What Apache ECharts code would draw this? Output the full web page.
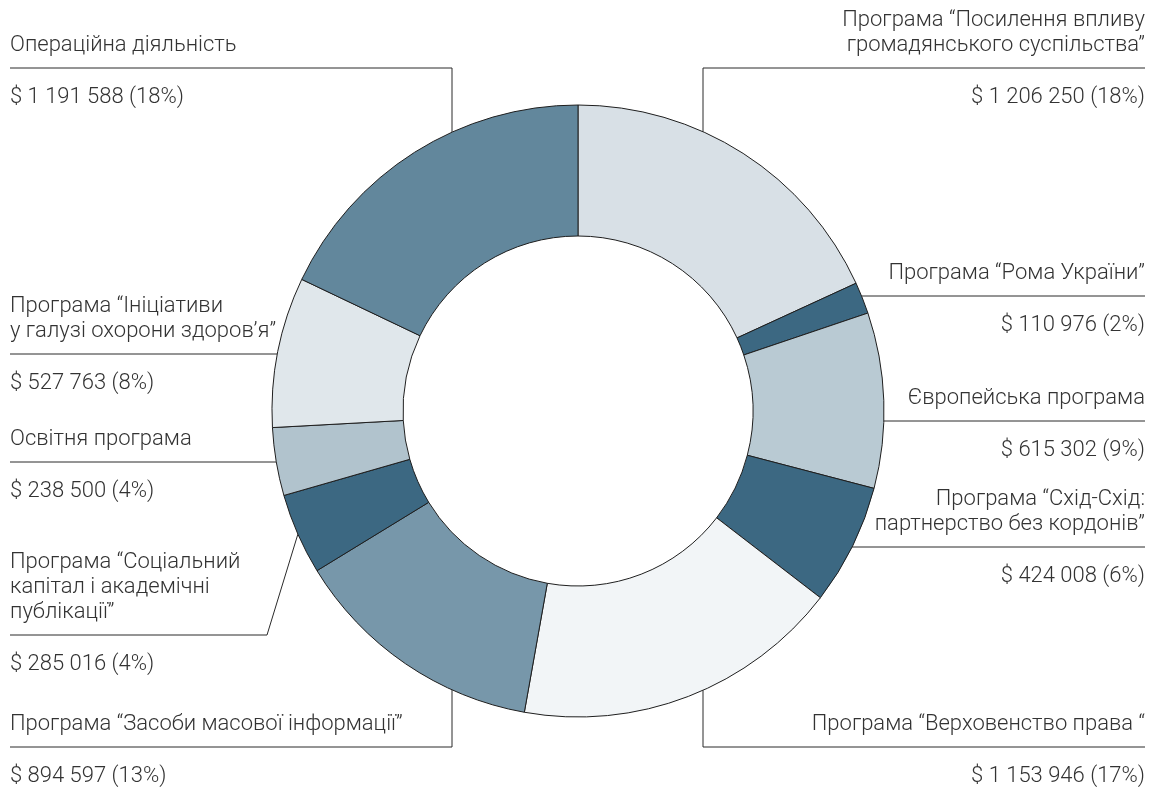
<!DOCTYPE html>
<html><head><meta charset="utf-8">
<script src="https://cdn.jsdelivr.net/npm/echarts@6/dist/echarts.min.js"></script>
<style>html,body{margin:0;padding:0;background:#fff}#c{width:1152px;height:789px}</style>
</head><body><div id="c"></div>
<script>
// ---- data ----
const categories = [
  'Програма “Посилення впливу\nгромадянського суспільства”',
  'Програма “Рома України”',
  'Європейська програма',
  'Програма “Схід-Схід:\nпартнерство без кордонів”',
  'Програма “Верховенство права “',
  'Програма “Засоби масової інформації”',
  'Програма “Соціальний\nкапітал і академічні\nпублікації”',
  'Освітня програма',
  'Програма “Ініціативи\nу галузі охорони здоров’я”',
  'Операційна діяльність'
];
const values = [1206250, 110976, 615302, 424008, 1153946, 894597, 285016, 238500, 527763, 1191588];
const colors = ['#d8e0e6', '#3c6882', '#b9cad3', '#3c6882', '#f2f5f7', '#7797aa', '#3c6882', '#b1c3cd', '#e0e7eb', '#62879c'];

// ---- label layout (positions, not data) ----
const labelSide = ['right', 'right', 'right', 'right', 'right', 'left', 'left', 'left', 'left', 'left'];
const labelLineY = [68, 296, 421, 547, 747, 747, 635, 462, 354, 68];
const leaderKind = ['v', 'h', 'h', 'h', 'v', 'v', 'd', 'h', 'h', 'v'];
const leaderBendX = [703, null, null, null, 703, 452, 267, null, null, 452];

const CX = 578, CY = 411, R_IN = 175, R_OUT = 306;
const LEFT_X = 10, RIGHT_X = 1145;
const NAME_LH = 25, GAP_LH = 27, VALUE_LH = 25;
const FS = 22;
const FONT = 'Roboto, "Liberation Sans", sans-serif';

function fmt(v) { return String(v).replace(/\B(?=(\d{3})+(?!\d))/g, ' '); }

const chart = echarts.init(document.getElementById('c'), null, { renderer: 'canvas' });
chart.setOption({
  animation: false,
  series: [{
    type: 'pie',
    center: [CX, CY],
    radius: [R_IN, R_OUT],
    startAngle: 90,
    clockwise: true,
    avoidLabelOverlap: false,
    emphasis: { disabled: true },
    itemStyle: { borderColor: '#1e1e1e', borderWidth: 1 },
    data: categories.map((n, i) => ({ name: n, value: values[i], itemStyle: { color: colors[i] } })),
    label: {
      show: true,
      color: '#333',
      fontFamily: FONT,
      fontWeight: 300,
      fontSize: FS,
      formatter: function (p) {
        const lines = p.name.split('\n').map(l => '{n|' + l + '}');
        return lines.join('\n') + '\n{g| }\n{v|$ ' + fmt(p.value) + ' (' + Math.round(p.percent) + '%)}';
      },
      rich: {
        n: { fontSize: FS, lineHeight: NAME_LH, color: '#333', fontFamily: FONT, fontWeight: 300 },
        g: { fontSize: 4, lineHeight: GAP_LH },
        v: { fontSize: FS, lineHeight: VALUE_LH, color: '#333', fontFamily: FONT, fontWeight: 300 }
      }
    },
    labelLine: { show: true, length: 5, length2: 5, lineStyle: { color: '#2a2a2a', width: 1 } },
    labelLayout: function (p) {
      const i = p.dataIndex;
      const L = labelLineY[i];
      const k = categories[i].split('\n').length;
      const left = labelSide[i] === 'left';
      const endX = left ? LEFT_X : RIGHT_X;
      const top = L - 10 - k * NAME_LH;
      let pts;
      if (leaderKind[i] === 'v') {
        const x = leaderBendX[i];
        const dy = Math.sqrt(R_OUT * R_OUT - (x - CX) * (x - CX));
        const ye = L < CY ? CY - dy : CY + dy;
        pts = [[x, ye], [x, L], [endX, L]];
      } else if (leaderKind[i] === 'h') {
        const dx = Math.sqrt(R_OUT * R_OUT - (L - CY) * (L - CY));
        const xe = left ? CX - dx : CX + dx;
        pts = [[xe, L], [xe, L], [endX, L]];
      } else {
        const p0 = p.labelLinePoints ? p.labelLinePoints[0] : [CX, CY];
        pts = [[p0[0], p0[1]], [leaderBendX[i], L], [endX, L]];
      }
      return { x: endX, y: top, align: left ? 'left' : 'right', verticalAlign: 'top', labelLinePoints: pts };
    }
  }]
});
</script>
</body></html>
